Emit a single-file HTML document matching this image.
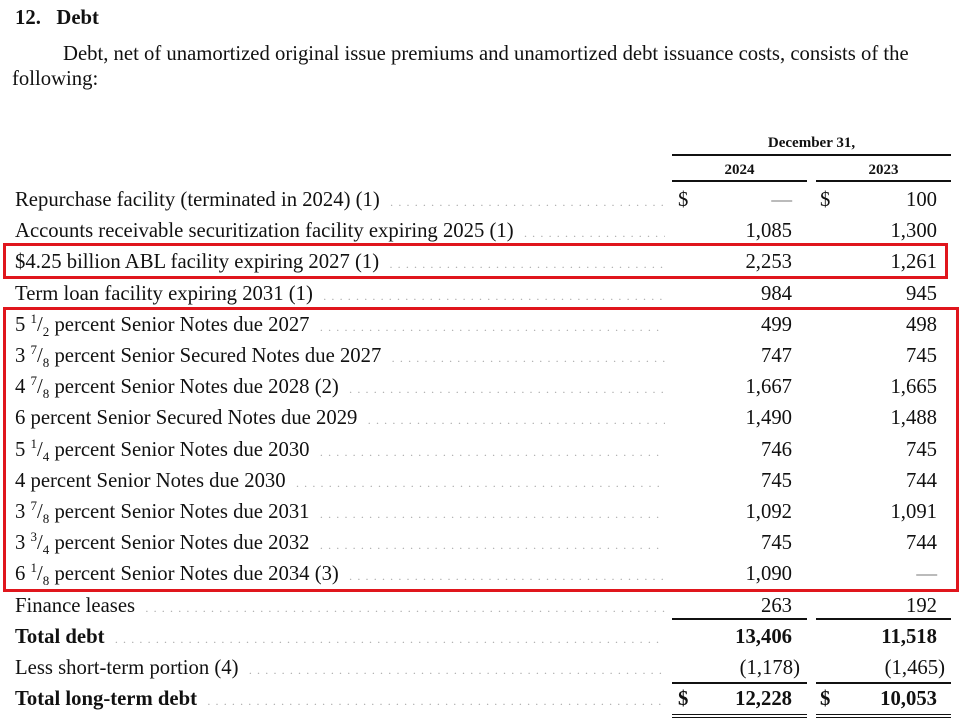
<!DOCTYPE html>
<html><head><meta charset="utf-8"><style>
body{margin:0;width:973px;height:724px;background:#fff;position:relative;overflow:hidden;font-family:"Liberation Serif",serif;color:#111;font-size:20.7px}
.a{position:absolute;white-space:nowrap;line-height:22px}
.r{text-align:right}
.lbl{position:absolute;left:15px;width:650px;overflow:hidden;white-space:nowrap;line-height:22px}
.lbl span.d{color:#aaa;letter-spacing:5.2px;font-size:12px;font-weight:normal}
.ln{position:absolute;background:#111}
.box{position:absolute;border:3px solid #e0161d;box-sizing:border-box}
sup,sub{font-size:13px;line-height:0}
</style></head><body>
<div class="a" style="left:15px;top:7px;font-weight:bold">12.&nbsp;&nbsp;&nbsp;Debt</div>
<div class="a" style="left:63px;top:43px">Debt, net of unamortized original issue premiums and unamortized debt issuance costs, consists of the</div>
<div class="a" style="left:12px;top:68px">following:</div>
<div class="a" style="left:672px;width:279px;text-align:center;top:132px;font-weight:bold;font-size:15px">December 31,</div>
<div class="ln" style="left:672px;top:154px;width:279px;height:2px"></div>
<div class="a" style="left:672px;width:135px;text-align:center;top:159px;font-weight:bold;font-size:15px">2024</div>
<div class="a" style="left:816px;width:135px;text-align:center;top:159px;font-weight:bold;font-size:15px">2023</div>
<div class="ln" style="left:672px;top:180px;width:135px;height:2px"></div>
<div class="ln" style="left:816px;top:180px;width:135px;height:2px"></div>
<div id="rows"></div>
<div class="box" style="left:3px;top:243px;width:945px;height:36px"></div>
<div class="box" style="left:3px;top:307px;width:956px;height:285px"></div>
<div class="ln" style="left:672px;top:618px;width:135px;height:2px"></div>
<div class="ln" style="left:816px;top:618px;width:135px;height:2px"></div>
<div class="ln" style="left:672px;top:682px;width:135px;height:2px"></div>
<div class="ln" style="left:816px;top:682px;width:135px;height:2px"></div>
<div class="ln" style="left:672px;top:714px;width:135px;height:1px;box-shadow:0 3px 0 #111"></div>
<div class="ln" style="left:816px;top:714px;width:135px;height:1px;box-shadow:0 3px 0 #111"></div>
<script>
const labels=["Repurchase facility (terminated in 2024) (1)","Accounts receivable securitization facility expiring 2025 (1)","$4.25 billion ABL facility expiring 2027 (1)","Term loan facility expiring 2031 (1)","5 <sup>1</sup>/<sub>2</sub> percent Senior Notes due 2027","3 <sup>7</sup>/<sub>8</sub> percent Senior Secured Notes due 2027","4 <sup>7</sup>/<sub>8</sub> percent Senior Notes due 2028 (2)","6 percent Senior Secured Notes due 2029","5 <sup>1</sup>/<sub>4</sub> percent Senior Notes due 2030","4 percent Senior Notes due 2030","3 <sup>7</sup>/<sub>8</sub> percent Senior Notes due 2031","3 <sup>3</sup>/<sub>4</sub> percent Senior Notes due 2032","6 <sup>1</sup>/<sub>8</sub> percent Senior Notes due 2034 (3)","Finance leases","Total debt","Less short-term portion (4)","Total long-term debt"];
const v2024=["—","1,085","2,253","984","499","747","1,667","1,490","746","745","1,092","745","1,090","263","13,406","(1,178)","12,228"];
const v2023=["100","1,300","1,261","945","498","745","1,665","1,488","745","744","1,091","744","—","192","11,518","(1,465)","10,053"];
const bold=[14,16];const dollar=[0,16];
const c=document.getElementById('rows');
labels.forEach((l,i)=>{
 const top=189+i*31.2;const b=bold.includes(i)?'font-weight:bold;':'';
 const d=document.createElement('div');d.className='lbl';d.style.cssText='top:'+top+'px;'+b;
 
 
 d.innerHTML=l+' &nbsp;<span class="d">'+'.'.repeat(150)+'</span>';c.appendChild(d);
 [[v2024,792,678],[v2023,937,820]].forEach(([arr,right,dx],k)=>{
  const e=document.createElement('div');e.className='a r';e.style.cssText='top:'+top+'px;right:'+(973-right)+'px;'+b+(arr[i]=='—'?'color:#777;':'')+(arr[i][0]=='('?'margin-right:-8px;':'');
  
  
  e.textContent=arr[i];c.appendChild(e);
  if(dollar.includes(i)){const s=document.createElement('div');s.className='a';s.style.cssText='top:'+top+'px;left:'+dx+'px;'+b;
  
  
  s.textContent='$';c.appendChild(s);}
 });
});
</script>
</body></html>
